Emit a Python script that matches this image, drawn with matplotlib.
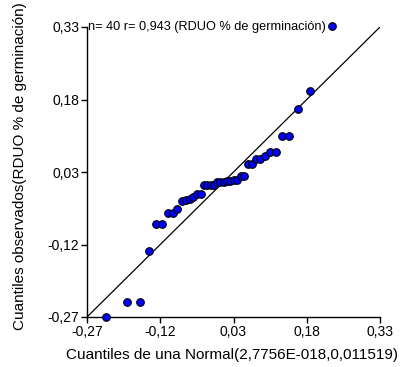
import matplotlib
matplotlib.use("Agg")
import matplotlib.pyplot as plt

plt.rcParams['font.family'] = ['Liberation Sans', 'DejaVu Sans']

# Theoretical normal quantiles (x) and sorted observed residuals (y)
normal_quantiles = [
    -0.2315, -0.1874, -0.1623, -0.1438, -0.1289, -0.1161, -0.1047, -0.0944,
    -0.0850, -0.0761, -0.0678, -0.0598, -0.0521, -0.0447, -0.0375, -0.0305,
    -0.0236, -0.0168, -0.0100, -0.0033, 0.0033, 0.0100, 0.0168, 0.0236,
    0.0305, 0.0375, 0.0447, 0.0521, 0.0598, 0.0678, 0.0761, 0.0850,
    0.0944, 0.1047, 0.1161, 0.1289, 0.1438, 0.1623, 0.1874, 0.2315,
]
observed = [
    -0.2694, -0.2390, -0.2390, -0.1335, -0.0776, -0.0776, -0.0548, -0.0548,
    -0.0472, -0.0300, -0.0280, -0.0265, -0.0211, -0.0145, -0.0145, 0.0030,
    0.0030, 0.0030, 0.0040, 0.0083, 0.0103, 0.0103, 0.0114, 0.0114,
    0.0134, 0.0134, 0.0207, 0.0207, 0.0459, 0.0459, 0.0563, 0.0563,
    0.0637, 0.0707, 0.0707, 0.1045, 0.1045, 0.1597, 0.1976, 0.3320,
]
ticks = [-0.27, -0.12, 0.03, 0.18, 0.33]
tick_labels = ['-0,27', '-0,12', '0,03', '0,18', '0,33']

W, H = 401, 367
fig = plt.figure(figsize=(W / 100, H / 100), dpi=100)
ax = fig.add_axes([87 / W, 1 - 317 / H, (380 - 87) / W, (317 - 27) / H])

ax.plot([-0.27, 0.33], [-0.27, 0.33], color='black', linewidth=0.9, zorder=2)
ax.scatter(normal_quantiles, observed, s=30, facecolor='#0000ff',
           edgecolor='black', linewidth=0.8, zorder=3, clip_on=False)

ax.set_xlim(-0.27, 0.33)
ax.set_ylim(-0.27, 0.33)
ax.set_xticks(ticks)
ax.set_xticklabels(tick_labels)
ax.set_yticks(ticks)
ax.set_yticklabels(tick_labels)
ax.tick_params(direction='out', length=4, width=1, labelsize=10, pad=1.5,
               colors='black')
for side in ('top', 'right'):
    ax.spines[side].set_visible(False)
for side in ('left', 'bottom'):
    ax.spines[side].set_linewidth(1)
    ax.spines[side].set_color('black')

ax.text(-0.268, 0.33, 'n= 40 r= 0,943 (RDUO % de germinación)', fontsize=9.2,
        ha='left', va='center')

fig.text(232 / W, 1 - 355 / H, 'Cuantiles de una Normal(2,7756E-018,0,011519)',
         ha='center', va='center', fontsize=11)
fig.text(20 / W, 1 - 166 / H, 'Cuantiles observados(RDUO % de germinación)',
         ha='center', va='center', rotation=90, fontsize=11)

fig.savefig('out.png', dpi=100)
